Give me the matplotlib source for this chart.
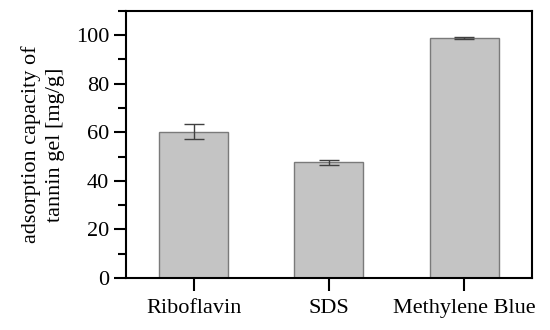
import numpy as np
import matplotlib.pyplot as plt
from matplotlib.ticker import MultipleLocator

# dati
categorie = ['Riboflavin', 'SDS', 'Methylene Blue']
valori = [60.2, 47.6, 98.9]
errori = [3.0, 1.0, 0.4]

plt.rcParams['font.family'] = ['Liberation Serif', 'DejaVu Serif']

fig = plt.figure(figsize=(5.5, 3.3), dpi=100)
ax = fig.add_axes([0.229, 0.158, 0.738, 0.809])

x = np.arange(len(categorie))
ax.bar(x, valori, width=0.51, color='#c4c4c4', edgecolor='#7a7a7a', linewidth=1.0,
       yerr=errori, capsize=7, error_kw=dict(ecolor='#404040', elinewidth=1.0, capthick=1.0))

ax.set_xlim(-0.5, 2.5)
ax.set_ylim(0, 110)
ax.set_xticks(x)
ax.set_xticklabels(categorie, fontsize=16)
ax.set_yticks([0, 20, 40, 60, 80, 100])
ax.yaxis.set_minor_locator(MultipleLocator(10))
ax.tick_params(axis='y', labelsize=16, direction='out', length=9, width=1.5, pad=3)
ax.tick_params(axis='y', which='minor', direction='out', length=6, width=1.5)
ax.tick_params(axis='x', direction='out', length=9, width=1.5, pad=6)
for s in ax.spines.values():
    s.set_linewidth(1.5)

ax.set_ylabel('adsorption capacity of\ntannin gel [mg/g]', fontsize=16, linespacing=1.35, labelpad=8)

fig.savefig('out.png', dpi=100)
